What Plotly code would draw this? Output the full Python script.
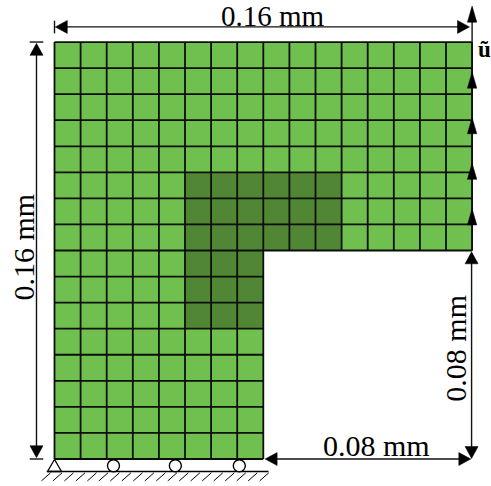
import plotly.graph_objects as go

# Mesh, in element units (one element = 0.01 mm). 0 = light, 1 = dark, None = cut-out. Bottom row first.
mesh_rows = [
    "LLLLLLLL........",
    "LLLLLLLL........",
    "LLLLLLLL........",
    "LLLLLLLL........",
    "LLLLLLLL........",
    "LLLLLDDD........",
    "LLLLLDDD........",
    "LLLLLDDD........",
    "LLLLLDDDDDDLLLLL",
    "LLLLLDDDDDDLLLLL",
    "LLLLLDDDDDDLLLLL",
    "LLLLLLLLLLLLLLLL",
    "LLLLLLLLLLLLLLLL",
    "LLLLLLLLLLLLLLLL",
    "LLLLLLLLLLLLLLLL",
    "LLLLLLLLLLLLLLLL",
]
code = {"L": 0, "D": 1, ".": None}
z = [[code[c] for c in r] for r in mesh_rows]
n = 16
cell_centres = [i + 0.5 for i in range(n)]

# vertical grid lines: x, top; horizontal: y, right end
v_lines = [(i, 8 if i > 8 else 0, 16) for i in range(n + 1)]
h_lines = [(j, 8 if j < 8 else 16) for j in range(n + 1)]

# dimension lines (x0,y0,x1,y1)
dim_lines = [
    (0.2, 16.58, 15.8, 16.58), (0, 16.33, 0, 16.82),
    (-0.69, 0.3, -0.69, 15.7), (-0.95, 16, -0.43, 16), (-0.95, 0, -0.43, 0),
    (15.98, 0.3, 15.98, 7.7),
    (8.2, 0, 15.8, 0),
]
# dimension heads (tip x, tip y, dir x, dir y)
dim_heads = [
    (0.03, 16.58, -1, 0), (15.9, 16.58, 1, 0),
    (-0.69, 15.95, 0, 1), (-0.69, 0.05, 0, -1),
    (15.98, 7.95, 0, 1), (15.98, 0.02, 0, -1),
    (8.07, 0, -1, 0), (15.95, 0, 1, 0),
]
# displacement arrows along the right edge
u_line = (16, 8, 16, 17.3)
u_tips = [17.38, 14.85, 13.1, 11.35, 9.6]

ground = (-0.3, -0.48, 8.2)
hatch_x = [-0.5 + i * 0.44 for i in range(20)]
roller_x = [2.26, 4.63, 7.08]

labels = [
    ("0.16 mm", 8.36, 17.0, 0),
    ("0.16 mm", -1.2, 8.12, -90),
    ("0.08 mm", 15.35, 4.24, -90),
    ("0.08 mm", 12.33, 0.52, 0),
]

fig = go.Figure()
fig.add_trace(go.Heatmap(x=cell_centres, y=cell_centres, z=z, zmin=0, zmax=1,
                         colorscale=[[0, "#70c04f"], [1, "#518734"]],
                         showscale=False, hoverinfo="skip"))

def line(x0, y0, x1, y1, w=1.6, c="#000000"):
    fig.add_trace(go.Scatter(x=[x0, x1], y=[y0, y1], mode="lines",
                             line=dict(color=c, width=w), showlegend=False, hoverinfo="skip"))

def head(tx, ty, dx, dy, length=0.46, half=0.25):
    bx, by = tx - dx * length, ty - dy * length
    px, py = -dy * half, dx * half
    fig.add_trace(go.Scatter(x=[tx, bx + px, bx - px, tx], y=[ty, by + py, by - py, ty],
                             mode="lines", fill="toself", fillcolor="#000000",
                             line=dict(color="#000000", width=0.5), showlegend=False, hoverinfo="skip"))

for x, y0, y1 in v_lines:
    line(x, y0, x, y1, 1.8, "#0a0f08")
for y, x1 in h_lines:
    line(0, y, x1, y, 1.8, "#0a0f08")

for s in dim_lines:
    line(*s, 1.4, "#111111")
for h in dim_heads:
    head(*h)

line(*u_line, 1.4, "#111111")
for t in u_tips:
    head(16, t, 0, 1, 0.62, 0.18)

# supports
line(ground[0], ground[1], ground[2], ground[1], 1.6)
for x in hatch_x:
    line(x, -0.84, x + 0.35, -0.53, 1.0)
fig.add_trace(go.Scatter(x=[0, -0.27, 0.27, 0], y=[-0.02, -0.48, -0.48, -0.02], mode="lines",
                         line=dict(color="#000000", width=1.3), showlegend=False, hoverinfo="skip"))
fig.add_trace(go.Scatter(x=roller_x, y=[-0.26] * len(roller_x), mode="markers",
                         marker=dict(size=12, color="#ffffff", line=dict(color="#000000", width=1.4)),
                         showlegend=False, hoverinfo="skip"))

annots = [dict(x=x, y=y, text=t, textangle=a, showarrow=False,
               font=dict(family="Liberation Serif", size=(29 if i == 0 else 30), color="#000000"))
          for i, (t, x, y, a) in enumerate(labels)]
annots.append(dict(x=16.48, y=15.72, text="<b>ũ</b>", showarrow=False,
                   font=dict(family="Liberation Serif", size=23, color="#000000")))

fig.update_layout(
    width=491, height=486, margin=dict(l=0, r=0, t=0, b=0),
    plot_bgcolor="#ffffff", paper_bgcolor="#ffffff", showlegend=False,
    xaxis=dict(range=[-2.088, 16.724], visible=False, fixedrange=True),
    yaxis=dict(range=[-1.036, 17.613], visible=False, fixedrange=True),
    annotations=annots,
)
fig.write_html("out.html", config={"displayModeBar": False},
               post_script="document.body.style.margin='0';document.documentElement.style.overflow='hidden';")
